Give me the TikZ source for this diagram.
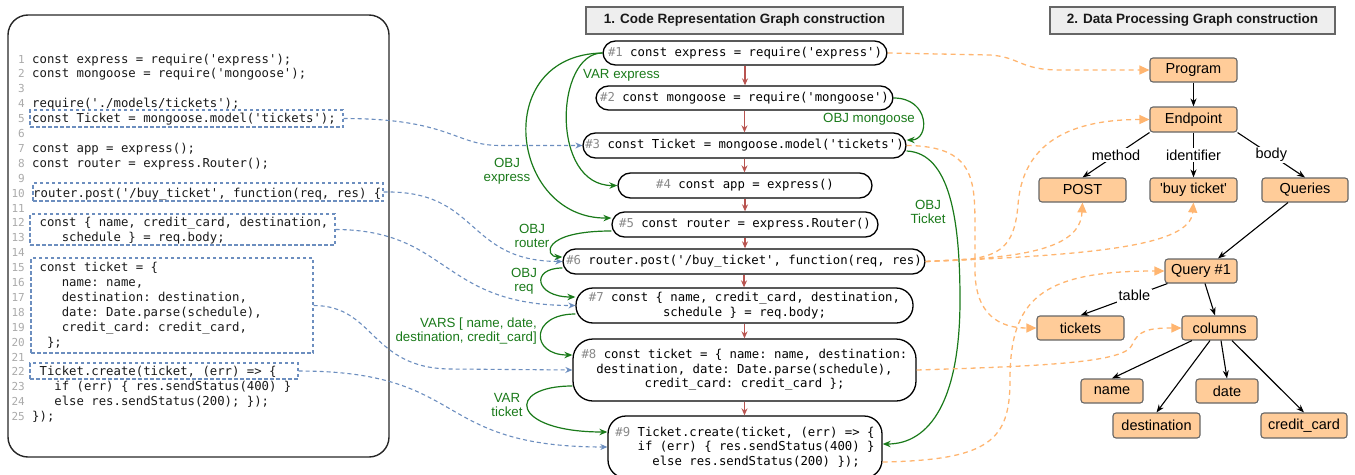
\documentclass[tikz,border=0pt]{standalone}
\usepackage{fontspec}
\setmainfont{Liberation Sans}
\setmonofont{DejaVu Sans Mono}
\usetikzlibrary{arrows.meta}
\definecolor{cgreen}{HTML}{1A7A1A}
\definecolor{cblue}{HTML}{6C8EBF}
\definecolor{corange}{HTML}{FFB570}
\definecolor{cred}{HTML}{B85450}
\definecolor{cfill}{HTML}{FFCC99}
\definecolor{cgrayfill}{HTML}{EEEEEE}
\definecolor{cborder}{HTML}{666666}
\definecolor{numgray}{HTML}{AAAAAA}
\definecolor{stepgray}{HTML}{888888}
\newcommand{\stepno}[1]{\textcolor{stepgray}{\##1}}
\begin{document}
\begin{tikzpicture}[x=1pt,y=-1pt,
  codefont/.style={font=\ttfamily\fontsize{12.3}{14.5}\selectfont},
  codeln/.style={codefont, anchor=base west, inner sep=0, text=black!90},
  lnum/.style={font=\ttfamily\fontsize{11}{13}\selectfont, text=numgray, anchor=base east, inner sep=0},
  stmt/.style={draw=black, line width=1.3, rounded corners=12.5, codefont, inner sep=0, align=center},
  blbox/.style={draw=cblue, line width=1.1, dash pattern=on 3.5pt off 2.5pt},
  bl/.style={draw=cblue, line width=1.1, dash pattern=on 4pt off 3pt, -{Stealth[length=7pt,width=6pt]}},
  gr/.style={draw=cgreen, line width=1.2, -{Stealth[length=8pt,width=6.5pt]}},
  rd/.style={draw=cred, line width=1.4, -{Stealth[length=7pt,width=6pt]}},
  orl/.style={draw=corange, line width=1.3, dash pattern=on 5pt off 4pt, -{Triangle[length=10pt,width=9pt]}},
  glab/.style={text=cgreen, font=\fontsize{13.3}{14}\selectfont, align=center, inner sep=0},
  dp/.style={draw=cborder, fill=cfill, rounded corners=3, line width=1.1, font=\fontsize{14.5}{16}\selectfont, inner sep=0},
  blk/.style={draw=black, line width=1.1, -{Stealth[length=8pt,width=6pt]}},
  elab/.style={fill=white, font=\fontsize{14.5}{16}\selectfont, inner sep=1.5},
  ttlbox/.style={draw=cborder, fill=cgrayfill, line width=1.1, font=\bfseries\fontsize{13.5}{16}\selectfont, inner sep=0, text=black!90}
]
\useasboundingbox (0,0) rectangle (1355,474);

% ---------------- left code panel ----------------
\node[draw=black!85, line width=1.4, rounded corners=20, minimum width=381, minimum height=442, inner sep=0] (panel) at (198.5,236) {};

\foreach \i in {1,...,25} \node[lnum] (num\i) at (25,{63+(\i-1)*14.9}) {\i};

\node[codeln] (c1) at (32,63) {const express = require('express');};
\node[codeln] (c2) at (32,77.9) {const mongoose = require('mongoose');};
\node[codeln] (c4) at (32,107.7) {require('./models/tickets');};
\node[codeln] (c5) at (32,122.6) {const Ticket = mongoose.model('tickets');};
\node[codeln] (c7) at (32,152.4) {const app = express();};
\node[codeln] (c8) at (32,167.3) {const router = express.Router();};
\node[codeln] (c10) at (33,197.1) {router.post('/buy\_ticket', function(req, res) \{};
\node[codeln] (c12) at (39.4,226.9) {const \{ name, credit\_card, destination,};
\node[codeln] (c13) at (61.6,241.8) {schedule \} = req.body;};
\node[codeln] (c15) at (39.4,271.6) {const ticket = \{};
\node[codeln] (c16) at (61.6,286.5) {name: name,};
\node[codeln] (c17) at (61.6,301.4) {destination: destination,};
\node[codeln] (c18) at (61.6,316.3) {date: Date.parse(schedule),};
\node[codeln] (c19) at (61.6,331.2) {credit\_card: credit\_card,};
\node[codeln] (c20) at (46.8,346.1) {\};};
\node[codeln] (c22) at (39.4,375.9) {Ticket.create(ticket, (err) => \{};
\node[codeln] (c23) at (54.2,390.8) {if (err) \{ res.sendStatus(400) \}};
\node[codeln] (c24) at (54.2,405.7) {else res.sendStatus(200); \});};
\node[codeln] (c25) at (32,420.6) {\});};

% dashed selection boxes
\node[blbox, minimum width=313, minimum height=17, inner sep=0] (box5) at (186.5,118.5) {};
\node[blbox, minimum width=350, minimum height=18, inner sep=0] (box10) at (208,192) {};
\node[blbox, minimum width=305, minimum height=31, inner sep=0] (box12) at (182.5,229.5) {};
\node[blbox, minimum width=282, minimum height=95, inner sep=0] (box15) at (172,305.5) {};
\node[blbox, minimum width=268, minimum height=16, inner sep=0] (box22) at (164,371) {};

% ---------------- titles ----------------
\node[ttlbox, minimum width=317, minimum height=27] (t1) at (744.5,20.5) {1. Code Representation Graph construction};
\node[ttlbox, minimum width=285, minimum height=27] (t2) at (1192.5,20.5) {2. Data Processing Graph construction};

% ---------------- code representation graph ----------------
\node[stmt, minimum width=284, minimum height=24] (n1) at (745,53) {\stepno{1} const express = require('express')};
\node[stmt, minimum width=297, minimum height=24] (n2) at (744.5,98) {\stepno{2} const mongoose = require('mongoose')};
\node[stmt, minimum width=323, minimum height=25] (n3) at (744.5,145.5) {\stepno{3} const Ticket = mongoose.model('tickets')};
\node[stmt, minimum width=254, minimum height=25] (n4) at (745,185.5) {\stepno{4} const app = express()};
\node[stmt, minimum width=266, minimum height=25] (n5) at (745,224.5) {\stepno{5} const router = express.Router()};
\node[stmt, minimum width=362, minimum height=25] (n6) at (744,261.5) {\stepno{6} router.post('/buy\_ticket', function(req, res)};
\node[stmt, minimum width=337, minimum height=35, rounded corners=17] (n7) at (744.5,305.5) {\stepno{7} const \{ name, credit\_card, destination,\\schedule \} = req.body;};
\node[stmt, minimum width=343, minimum height=62, rounded corners=20] (n8) at (744.5,370) {\stepno{8} const ticket = \{ name: name, destination:\\destination, date: Date.parse(schedule),\\credit\_card: credit\_card \};};
\node[stmt, minimum width=274, minimum height=62, rounded corners=18, align=left] (n9) at (745,447) {\stepno{9} Ticket.create(ticket, (err) => \{\\\hspace*{22.2pt}if (err) \{ res.sendStatus(400) \}\\\hspace*{37pt}else res.sendStatus(200) \});};

% control flow
\foreach \a/\b in {n1/n2,n2/n3,n3/n4,n4/n5,n5/n6,n6/n7,n7/n8,n8/n9}
  \draw[rd] (\a.south) -- (\a.south |- \b.north);

% data flow (green)
\draw[gr] (n1.west) .. controls (490,55) and (510,219) .. ([yshift=6.5pt]n5.west);
\draw[gr] (n1.west) .. controls (555,53) and (550,186) .. (n4.west);
\draw[gr] (n2.east) .. controls (930,98) and (930,140) .. ([yshift=5.5pt]n3.east);
\draw[gr] ([yshift=-5.5pt]n3.east) .. controls (950,153) and (960,220) .. (960,300) .. controls (960,400) and (930,444) .. ([yshift=3pt]n9.east);
\draw[gr] ([yshift=-6.5pt]n5.west) .. controls (540,231) and (545,257) .. ([yshift=4.5pt]n6.west);
\draw[gr] ([yshift=-6.5pt]n6.west) .. controls (530,268) and (535,297) .. ([yshift=8.5pt]n7.west);
\draw[gr] ([yshift=-8.5pt]n7.west) .. controls (530,314) and (530,355) .. ([yshift=15pt]n8.west);
\draw[gr] ([yshift=-16pt]n8.west) .. controls (505,386) and (510,432) .. ([yshift=15pt]n9.west);

\node[glab, anchor=west] (lvarex) at (583,75) {VAR express};
\node[glab] (lobjex) at (507,171.5) {OBJ\\express};
\node[glab] (lobjmg) at (869,119) {OBJ mongoose};
\node[glab] (lobjtk) at (928,212) {OBJ\\Ticket};
\node[glab] (lobjrt) at (532,236) {OBJ\\router};
\node[glab] (lobjrq) at (524,281) {OBJ\\req};
\node[glab, anchor=east, align=right] (lvars) at (537,331) {VARS [ name, date,\\destination, credit\_card]};
\node[glab] (lvartk) at (507,404.5) {VAR\\ticket};

% code -> graph (blue)
\draw[bl] (box5.east) .. controls (450,118.5) and (455,145.5) .. (500,145.5) -- (n3.west);
\draw[bl] (box10.east) .. controls (480,190) and (465,261) .. (n6.west);
\draw[bl] (box12.east) .. controls (450,230) and (440,305.5) .. (n7.west);
\draw[bl] (box15.east) .. controls (375,305.5) and (370,368) .. (450,369) -- (n8.west);
\draw[bl] (box22.east) .. controls (470,371) and (430,447) .. (n9.west);

% ---------------- data processing graph ----------------
\node[dp, minimum width=87, minimum height=24] (prog) at (1193.5,70) {Program};
\node[dp, minimum width=87, minimum height=25] (endp) at (1193.5,119.5) {Endpoint};
\node[dp, minimum width=87, minimum height=24] (post) at (1082.5,190) {POST};
\node[dp, minimum width=87, minimum height=24] (buy) at (1193.5,190) {\textquotesingle buy ticket\textquotesingle};
\node[dp, minimum width=86, minimum height=24] (queries) at (1305,190) {Queries};
\node[dp, minimum width=72, minimum height=24] (q1) at (1201,271) {Query \#1};
\node[dp, minimum width=87, minimum height=24] (tickets) at (1080.5,328) {tickets};
\node[dp, minimum width=75, minimum height=24] (columns) at (1219.5,328) {columns};
\node[dp, minimum width=62, minimum height=24] (name) at (1112,391) {name};
\node[dp, minimum width=62, minimum height=24] (date) at (1227,391) {date};
\node[dp, minimum width=87, minimum height=25] (dest) at (1156.5,425.5) {destination};
\node[dp, minimum width=86, minimum height=25] (cc) at (1304,425.5) {credit\_card};

\draw[blk] (prog.south) -- (endp.north);
\draw[blk] (endp.south west) -- node[elab]{method} (post.north);
\draw[blk] (endp.south) -- node[elab]{identifier} (buy.north);
\draw[blk] (endp.south east) -- node[elab]{body} (queries.north);
\draw[blk] ([xshift=-17pt]queries.south) -- ([xshift=17pt]q1.north);
\draw[blk] ([xshift=3pt]q1.south west) -- node[elab, pos=0.38]{table} (tickets.north);
\draw[blk] ([xshift=4pt]q1.south) -- ([xshift=-4.5pt]columns.north);
\draw[blk] ([xshift=-27.5pt]columns.south) -- (name.north);
\draw[blk] ([xshift=-9.5pt]columns.south) -- (dest.north);
\draw[blk] ([xshift=1.5pt]columns.south) -- (date.north);
\draw[blk] ([xshift=12.5pt]columns.south) -- (cc.north);

% graph -> data processing (orange)
\draw[orl] (n1.east) -- (990,55) .. controls (1020,57) and (1020,70) .. (1060,70) -- (prog.west);
\draw[orl] (n3.east) .. controls (975,146) and (975,180) .. (975,230) -- (975,270) .. controls (975,315) and (1000,328) .. (tickets.west);
\draw[orl] (n6.east) -- (970,259) .. controls (1005,255) and (1015,240) .. (1018,205) .. controls (1022,150) and (1060,119.5) .. (endp.west);
\draw[orl] (n6.east) .. controls (1020,258) and (1080,250) .. (post.south);
\draw[orl] (n6.east) .. controls (1100,255) and (1190,245) .. (buy.south);
\draw[orl] (n8.east) .. controls (1050,366) and (1125,362) .. (1132,345) .. controls (1138,330) and (1150,328) .. (columns.west);
\draw[orl] ([yshift=-15pt]n9.east) .. controls (990,460) and (1010,440) .. (1010,380) .. controls (1010,300) and (1040,271) .. (q1.west);
\end{tikzpicture}
\end{document}
